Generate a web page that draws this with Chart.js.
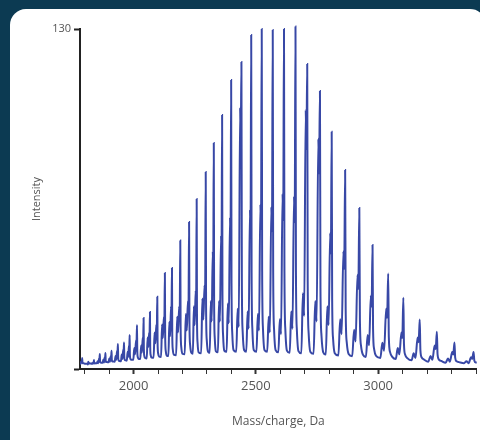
<!DOCTYPE html>
<html>
<head>
<meta charset="utf-8">
<script src="https://cdn.jsdelivr.net/npm/chart.js@4"></script>
<style>
  html, body { margin: 0; padding: 0; background: #0c3a52; }
  #wrap { width: 480px; height: 440px; }
</style>
</head>
<body>
<div id="wrap"><canvas id="spectrum" width="480" height="440"></canvas></div>
<script>
// Spectrum: one entry per charge-state cluster
const peakMz = [1790, 1815, 1838, 1862, 1885, 1910, 1936, 1961, 1984, 2014,
                2041, 2067, 2097, 2128, 2157, 2191, 2227, 2258, 2295, 2328,
                2362, 2399, 2441, 2481, 2524, 2569, 2615, 2662, 2710, 2762,
                2810, 2865, 2923, 2977, 3041, 3103, 3170, 3240, 3312, 3390];
const peakInt = [4.2, 2.8, 3.4, 5.7, 6.1, 7.0, 9.6, 10.1, 13.0, 16.8,
                 19.5, 21.8, 27.6, 36.7, 38.6, 49.1, 56.2, 65.0, 75.3, 86.4,
                 97.1, 110.5, 117.4, 127.7, 130, 129.6, 130, 131, 116.6, 106.3,
                 90.7, 76.1, 61.6, 47.4, 36.5, 27.2, 18.9, 14.2, 10.1, 6.5];
const shoulderInt = [3.0, 2.0, 2.5, 4.0, 4.5, 5.0, 7.0, 7.5, 9.0, 11,
                     12, 14, 17, 20, 24, 24, 26, 30, 32, 45,
                     51, 58, 100, 61, 63, 62, 67, 66, 99, 88,
                     52, 45, 36, 28, 23, 14, 12, 9, 6.5, 4.5];
const bumpInt = [2.5, 2.0, 2.2, 3.0, 3.5, 4.0, 5.0, 5.5, 6.5, 8,
                 9, 12, 14, 17, 18, 20, 21, 24, 27, 26,
                 26, 25, 23, 22, 21, 20, 19, 22, 29, 26,
                 24, 19, 15, 13, 10, 8, 6, 5, 4, 3];
const troughInt = [2, 2, 2, 2.2, 2.4, 2.6, 2.8, 3, 3.2, 3.5,
                   3.8, 4, 4.3, 4.6, 5, 5.3, 5.6, 5.8, 6, 6.2,
                   6.4, 6.6, 6.6, 6.6, 6.6, 6.6, 6.4, 6.2, 6, 5.8,
                   5.5, 5.2, 4.9, 4.6, 4.2, 3.8, 3.3, 2.8, 2.4, 2.2];

const xTicks = [1800, 1900, 2000, 2100, 2200, 2300, 2400, 2500, 2600,
                2700, 2800, 2900, 3000, 3100, 3200, 3300, 3400];
const xLabels = [2000, 2500, 3000];
const yTicks = [0, 130];
const yLabels = [130];

// each cluster: trough, broad bump, shoulder, sharp main peak, tail
function buildTrace() {
    const pts = [];
    for (let i = 0; i < peakMz.length; i++) {
        const m = peakMz[i];
        const g = i > 0 ? m - peakMz[i - 1] : peakMz[1] - peakMz[0];
        const t = troughInt[i];
        const h = peakInt[i];
        pts.push({ x: m - 0.5 * g, y: t });
        pts.push({ x: m - 0.37 * g, y: bumpInt[i] });
        pts.push({ x: m - 0.26 * g, y: Math.max(t, bumpInt[i] * 0.7) });
        pts.push({ x: m - 0.13 * g, y: shoulderInt[i] });
        pts.push({ x: m - 0.07 * g, y: shoulderInt[i] * 0.85 });
        pts.push({ x: m, y: h });
        pts.push({ x: m + 0.04 * g, y: t + 0.25 * (h - t) });
        pts.push({ x: m + 0.12 * g, y: t + 0.07 * (h - t) });
        pts.push({ x: m + 0.26 * g, y: t * 1.1 });
    }
    const last = peakMz.length - 1;
    pts.push({ x: peakMz[last] + 30, y: troughInt[last] });
    return pts;
}

// dark page and the white card behind the plot
const cardPlugin = {
    id: 'card',
    beforeDraw: function(chart) {
        const ctx = chart.ctx;
        ctx.save();
        ctx.fillStyle = '#0c3a52';
        ctx.fillRect(0, 0, chart.width, chart.height);
        ctx.fillStyle = '#ffffff';
        ctx.beginPath();
        ctx.roundRect(10, 9, 476, 460, 16);
        ctx.fill();
        ctx.restore();
    }
};

const textColor = '#555555';

new Chart(document.getElementById('spectrum'), {
    type: 'line',
    data: {
        datasets: [{
            data: buildTrace(),
            borderColor: '#3848a6',
            borderWidth: 2,
            pointRadius: 0,
            cubicInterpolationMode: 'monotone',
            fill: false,
            clip: { left: 0, top: false, right: 0, bottom: 0 }
        }]
    },
    options: {
        responsive: false,
        animation: false,
        events: [],
        layout: { padding: { top: 29, left: 0, right: 0, bottom: 0 } },
        plugins: {
            legend: { display: false },
            tooltip: { enabled: false }
        },
        scales: {
            x: {
                type: 'linear',
                min: 1781,
                max: 3403,
                afterBuildTicks: function(scale) {
                    scale.ticks = xTicks.map(v => ({ value: v }));
                },
                afterFit: function(scale) {
                    scale.height = 71;
                },
                grid: {
                    drawOnChartArea: false,
                    drawTicks: true,
                    tickLength: 5,
                    tickColor: '#333333',
                    tickWidth: ctx => xLabels.includes(ctx.tick && ctx.tick.value) ? 2 : 1
                },
                border: { display: true, color: '#222222', width: 2 },
                ticks: {
                    autoSkip: false,
                    maxRotation: 0,
                    color: textColor,
                    font: { family: 'Open Sans', size: 13 },
                    padding: 4,
                    callback: v => xLabels.includes(v) ? String(v) : ''
                },
                title: {
                    display: true,
                    text: 'Mass/charge, Da',
                    color: textColor,
                    font: { family: 'Open Sans', size: 12 },
                    padding: { top: 0, bottom: 11 }
                }
            },
            y: {
                min: 0,
                max: 130,
                afterBuildTicks: function(scale) {
                    scale.ticks = yTicks.map(v => ({ value: v }));
                },
                afterFit: function(scale) {
                    scale.width = 80;
                },
                grid: {
                    drawOnChartArea: false,
                    drawTicks: true,
                    tickLength: 6,
                    tickColor: '#222222',
                    tickWidth: 2
                },
                border: { display: true, color: '#222222', width: 2 },
                ticks: {
                    color: textColor,
                    font: { family: 'Open Sans', size: 11 },
                    padding: 3,
                    callback: v => yLabels.includes(v) ? String(v) : ''
                },
                title: {
                    display: true,
                    text: 'Intensity',
                    color: textColor,
                    font: { family: 'Open Sans', size: 11 },
                    padding: { top: 30, bottom: 0 }
                }
            }
        }
    },
    plugins: [cardPlugin]
});
</script>
</body>
</html>
